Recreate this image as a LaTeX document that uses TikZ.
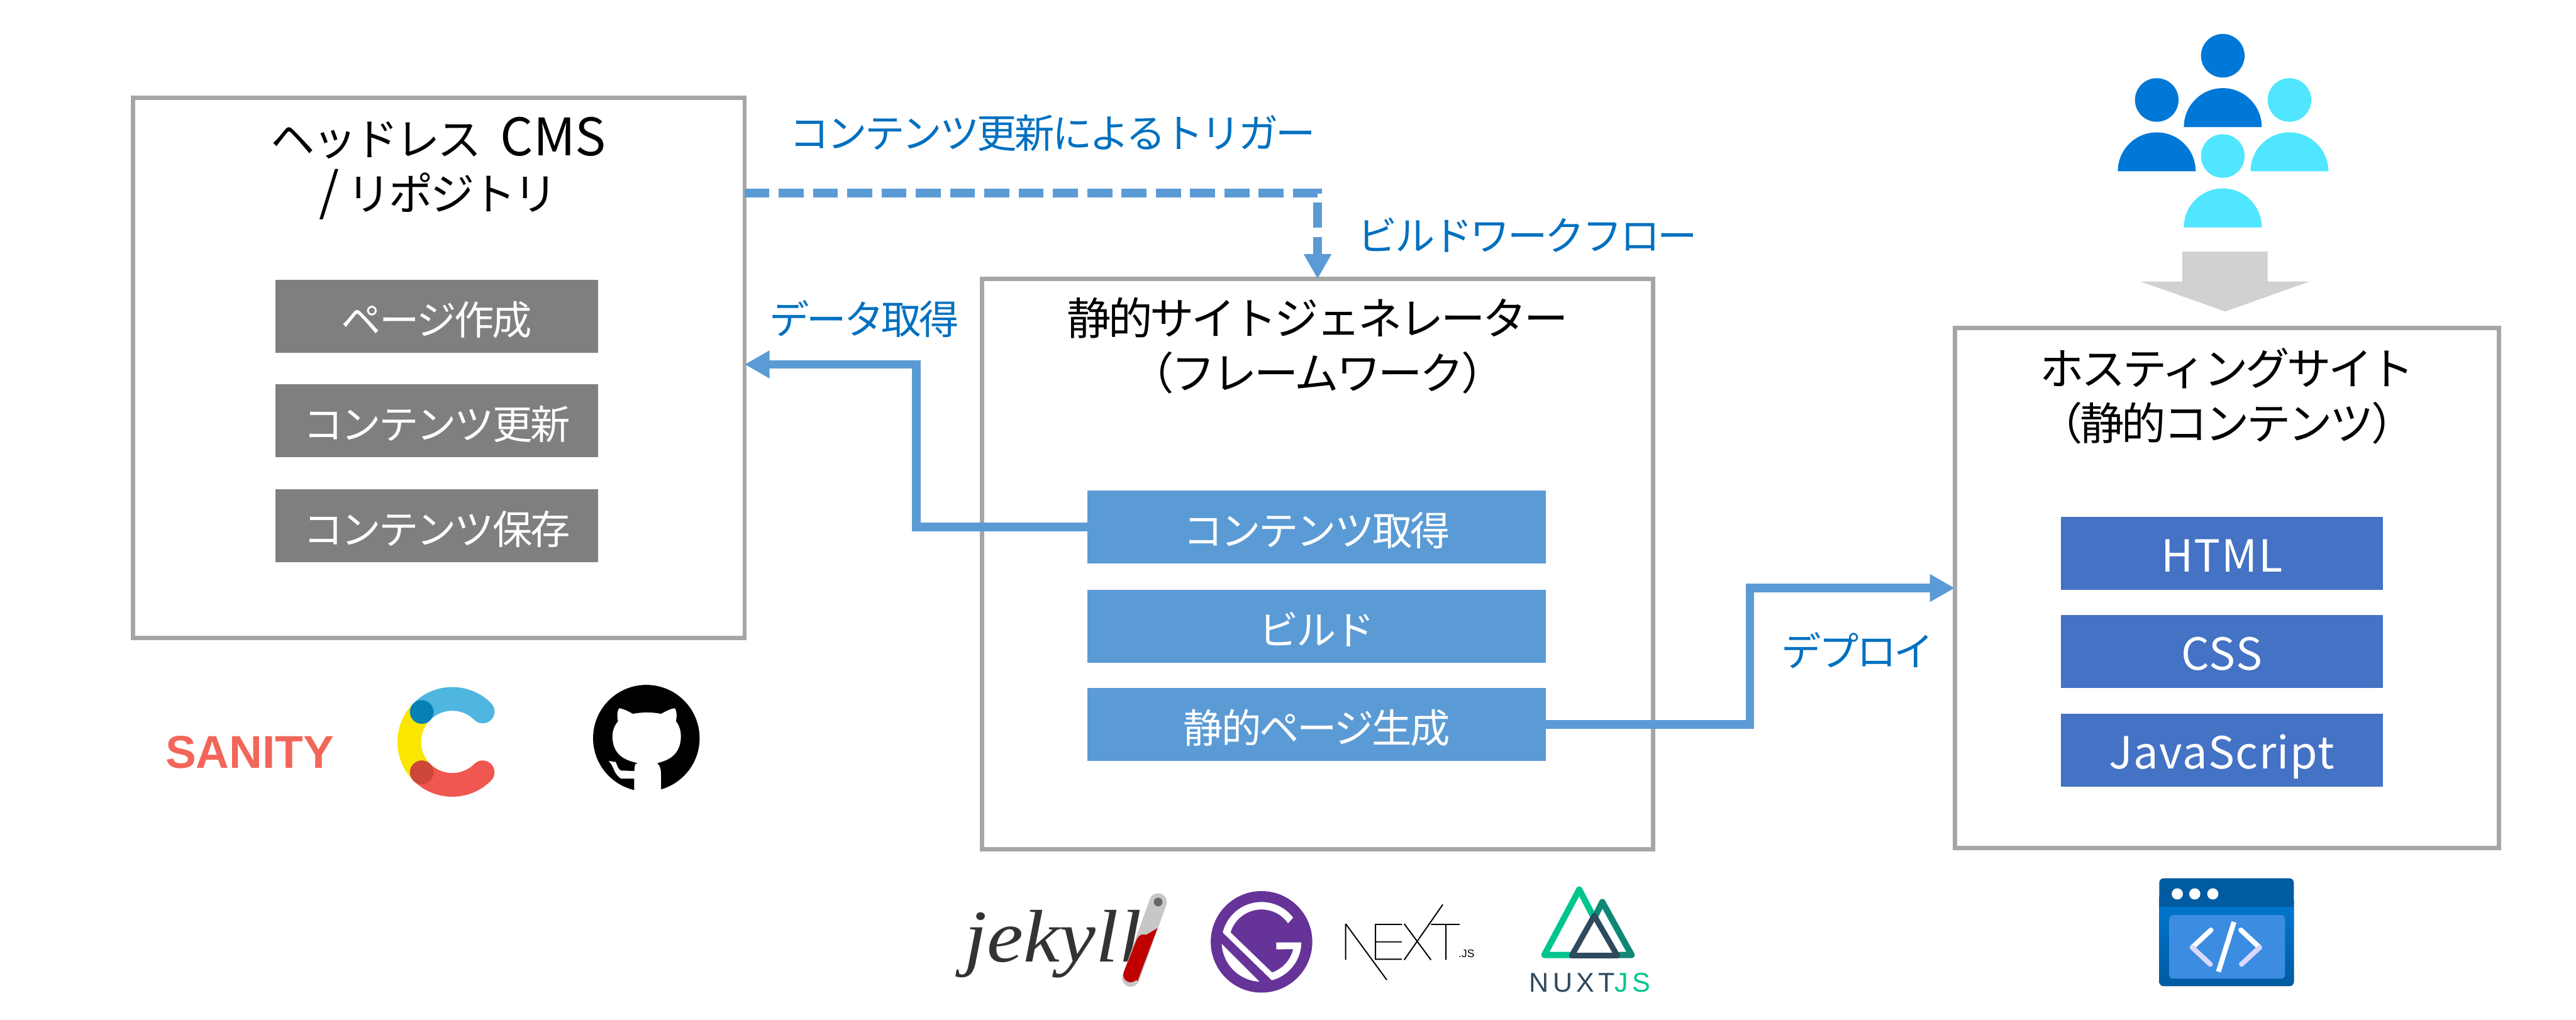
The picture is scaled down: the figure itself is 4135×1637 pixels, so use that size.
\documentclass[tikz,border=0pt]{standalone}
\usepackage{fontspec}
\setmainfont{Noto Sans CJK JP}
\newfontfamily\logofont{Liberation Sans}
\newfontfamily\jekyllfont{Liberation Serif}
\definecolor{panelgray}{HTML}{A6A6A6}
\definecolor{stepgray}{HTML}{7F7F7F}
\definecolor{flowblue}{HTML}{5B9BD5}
\definecolor{hostblue}{HTML}{4472C4}
\definecolor{labelblue}{HTML}{0070C0}
\definecolor{userblue}{HTML}{0078D7}
\definecolor{usercyan}{HTML}{50E6FF}
\definecolor{sanityred}{HTML}{F2665A}
\definecolor{cfblue}{HTML}{4FB5E1}
\definecolor{cfdarkblue}{HTML}{0681B6}
\definecolor{cfred}{HTML}{F05751}
\definecolor{cfdarkred}{HTML}{CD4739}
\definecolor{cfyellow}{HTML}{FBE600}
\definecolor{gatsbypurple}{HTML}{663399}
\definecolor{nuxtgreen}{HTML}{00C58E}
\definecolor{nuxtteal}{HTML}{108775}
\definecolor{nuxtnavy}{HTML}{2F495E}
\definecolor{windowdark}{HTML}{005BA1}
\definecolor{windowmid}{HTML}{0078D4}
\definecolor{windowpanel}{HTML}{3C8DE2}
\usetikzlibrary{arrows.meta,positioning}
\newcommand{\latinbig}[1]{{\fontsize{23.6pt}{24pt}\selectfont\addfontfeature{LetterSpace=0}#1}}
\newcommand{\latinmid}[1]{{\fontsize{20.2pt}{24pt}\selectfont\addfontfeature{LetterSpace=2}#1}}
\tikzset{
  panel/.style={draw=panelgray, line width=0.07cm, fill=white, inner sep=0pt, outer sep=0pt},
  heading/.style={align=center, inner sep=0pt, font=\fontsize{20.2pt}{25pt}\selectfont\addfontfeature{LetterSpace=-6}},
  stepbox/.style={text=white, inner sep=0pt, outer sep=0pt, text height=0.65cm, text depth=0.05cm, font=\fontsize{18.2pt}{24pt}\selectfont\addfontfeature{LetterSpace=-5}},
  cmsstep/.style={stepbox, fill=stepgray, minimum width=5.18cm, minimum height=1.17cm},
  ssgstep/.style={stepbox, fill=flowblue, minimum width=7.35cm, minimum height=1.17cm},
  hoststep/.style={stepbox, fill=hostblue, minimum width=5.17cm, minimum height=1.17cm},
  flowlabel/.style={text=labelblue, inner sep=0pt, font=\fontsize{18.2pt}{24pt}\selectfont\addfontfeature{LetterSpace=-6}},
  flowarrow/.style={draw=flowblue, line width=0.14cm, -{Triangle[length=0.4cm,width=0.42cm]}},
  triggerarrow/.style={flowarrow, dash pattern=on 0.4cm off 0.15cm},
}
\begin{document}
\begin{tikzpicture}[x=0.01cm,y=0.01cm]
  \useasboundingbox (0,0) rectangle (4135,-1637);

  %% Panels
  \node[panel, minimum width=9.81cm, minimum height=8.67cm] (cms) at (704.5,-590.5) {};
  \node[panel, minimum width=10.76cm, minimum height=9.15cm] (ssg) at (2115,-905.5) {};
  \node[panel, minimum width=8.73cm, minimum height=8.34cm] (host) at (3574.5,-944) {};

  %% Headings
  \node[heading] (cmstitle) at (704,-270) {ヘッドレス\hspace{0.3cm}\latinbig{CMS}\\\latinbig{/}\hspace{0.12cm}リポジトリ};
  \node[heading] (ssgtitle) at (2115,-555) {静的サイトジェネレーター\\（フレームワーク）};
  \node[heading] (hosttitle) at (3575,-636) {ホスティングサイト\\（静的コンテンツ）};

  %% CMS steps
  \node[cmsstep] (pagemake) at (701,-507.5) {ページ作成};
  \node[cmsstep] (update) at (701,-675) {コンテンツ更新};
  \node[cmsstep] (store) at (701,-844) {コンテンツ保存};

  %% Generator steps
  \node[ssgstep] (fetch) at (2113.5,-846) {コンテンツ取得};
  \node[ssgstep] (build) at (2113.5,-1005) {ビルド};
  \node[ssgstep] (generate) at (2113.5,-1163) {静的ページ生成};

  %% Hosted files
  \node[hoststep] (html) at (3566.5,-888.5) {\latinmid{HTML}};
  \node[hoststep] (css) at (3566.5,-1045.5) {\latinmid{CSS}};
  \node[hoststep] (js) at (3566.5,-1204.5) {\latinmid{JavaScript}};

  %% Connectors
  \coordinate (triggerstart) at (1195,-310);
  \coordinate (datacorner) at (1471,-585);
  \coordinate (deploycorner) at (2809,-944);
  \draw[triggerarrow] (triggerstart) -| (ssg.north);
  \draw[flowarrow] (fetch.west) -| (datacorner) -- (cms.east |- datacorner);
  \draw[flowarrow] (generate.east) -| (deploycorner) -- (host.west |- deploycorner);

  %% Connector labels
  \node[flowlabel] (triggerlabel) at (1690,-214) {コンテンツ更新によるトリガー};
  \node[flowlabel] (flowname) at (2452,-377) {ビルドワークフロー};
  \node[flowlabel] (datalabel) at (1387,-512) {データ取得};
  \node[flowlabel] (deploylabel) at (2982,-1044) {デプロイ};

  %% Users
  \foreach \ux/\uy/\ucol in {3568/204/userblue, 3462/275/userblue, 3675/275/usercyan, 3568/365/usercyan} {
    \fill[\ucol] (\ux,-\uy+114.5) circle (35);
    \fill[\ucol] (\ux-62.5,-\uy) arc[start angle=180, end angle=0, radius=62.5] -- cycle;
  }

  %% Access arrow
  \fill[black!18] (3503,-404) -- (3640,-404) -- (3640,-452) -- (3707,-452) -- (3572,-500) -- (3436,-452) -- (3503,-452) -- cycle;

  %% Sanity
  \node[inner sep=0pt, text=sanityred, font=\logofont\bfseries\fontsize{21pt}{24pt}\selectfont] (sanity) at (401,-1208) {SANITY};

  %% Contentful
  \draw[cfyellow, line width=0.38cm] (726,-1191) ++(135:69) arc[start angle=135, end angle=225, radius=69];
  \draw[cfblue, line width=0.38cm, line cap=round] (726,-1191) ++(135:69) arc[start angle=135, end angle=45, radius=69];
  \draw[cfred, line width=0.38cm, line cap=round] (726,-1191) ++(225:69) arc[start angle=225, end angle=315, radius=69];
  \fill[cfdarkblue] (677,-1143) circle (19);
  \fill[cfdarkred] (677,-1240) circle (19);

  %% GitHub
  \fill[black] (1037.5,-1185) circle (85.5);
  \fill[white] (1018,-1271) -- (1018,-1250) -- (997,-1250) .. controls (985,-1243) and (985,-1228) .. (977,-1222)
    .. controls (981,-1221) and (985,-1224) .. (988,-1223) .. controls (992,-1230) and (992,-1238) .. (1000,-1237)
    -- (1018,-1238) -- (1019.5,-1227) -- (1024,-1225) .. controls (1000,-1220) and (984,-1210) .. (983,-1183)
    .. controls (983,-1172) and (987,-1164) .. (992,-1158) .. controls (990,-1148) and (991,-1140) .. (994,-1137)
    .. controls (1002,-1138) and (1010,-1143) .. (1016,-1146) .. controls (1030,-1143) and (1048,-1143) .. (1061,-1146)
    .. controls (1067,-1143) and (1075,-1138) .. (1083,-1137) .. controls (1086,-1140) and (1087,-1148) .. (1085,-1158)
    .. controls (1090,-1164) and (1093,-1172) .. (1093,-1183) .. controls (1092,-1210) and (1076,-1220) .. (1055,-1225)
    .. controls (1060,-1230) and (1061,-1235) .. (1061,-1245) -- (1061,-1271) -- cycle;

  %% Jekyll
  \node[inner sep=0pt, text=black!80, xscale=1.1, font=\jekyllfont\itshape\fontsize{34pt}{36pt}\selectfont] (jekyll) at (1690,-1515) {jekyll};
  \draw[black!22, line width=0.28cm, line cap=round] (1859,-1448) -- (1815,-1570);
  \fill[black!60] (1859,-1448) circle (7);
  \fill[red!75!black] (1858,-1490) -- (1826,-1575) -- (1806,-1558) -- (1824,-1510) -- cycle;
  \draw[red!75!black, line width=0.24cm, line cap=round] (1836,-1512) -- (1815,-1565);

  %% Gatsby
  \fill[gatsbypurple] (2025,-1512) circle (81.5);
  \fill[white] (2025,-1512) ++(183:64) arc[start angle=183, end angle=267, radius=64] -- cycle;
  \fill[white] (2025,-1512) ++(166.5:64) arc[start angle=166.5, end angle=37.4, radius=64]
    -- ([shift={(2025,-1512)}]35:52) arc[start angle=35, end angle=163, radius=52]
    -- ([shift={(2025,-1512)}]-71:52) arc[start angle=-71, end angle=-13, radius=52]
    -- (2048.6,-1524) -- (2048.6,-1513) -- (2089,-1513)
    arc[start angle=-1, end angle=-75, radius=64] -- cycle;

  %% Next.js
  \draw[black, line width=0.02cm] (2160,-1483) -- (2160,-1541) (2160,-1483) -- (2226,-1573)
    (2208,-1483) -- (2208,-1541) (2208,-1484) -- (2250,-1484) (2208,-1512) -- (2250,-1512) (2208,-1540) -- (2250,-1540)
    (2254,-1483) -- (2297,-1541) (2316,-1452) -- (2254,-1541)
    (2297,-1484) -- (2343,-1484) (2321,-1484) -- (2321,-1541);
  \node[inner sep=0pt, font=\logofont\fontsize{5pt}{6pt}\selectfont] (nextjs) at (2354,-1531) {.JS};

  %% Nuxt
  \draw[nuxtgreen, line width=0.1cm, line join=round] (2525,-1533) -- (2479,-1533) -- (2535,-1428) -- (2559,-1474);
  \draw[nuxtteal, line width=0.1cm, line join=round] (2559,-1474) -- (2572,-1448) -- (2619,-1533) -- (2598,-1533);
  \draw[nuxtnavy, line width=0.09cm, line join=round] (2559,-1470) -- (2523,-1534) -- (2596,-1534) -- cycle;
  \node[inner sep=0pt, text=nuxtnavy, font=\logofont\fontsize{12.4pt}{14pt}\selectfont\addfontfeature{LetterSpace=14}] (nuxtjs) at (2552,-1578) {NUXT\textcolor{nuxtgreen}{JS}};

  %% Window icon
  \fill[rounded corners=0.07cm, top color=windowmid, bottom color=windowdark] (3466,-1440) rectangle (3682,-1583);
  \fill[rounded corners=0.07cm, windowdark] (3466,-1410) rectangle (3682,-1456);
  \fill[windowdark] (3466,-1440) rectangle (3682,-1456);
  \fill[rounded corners=0.06cm, windowpanel] (3482,-1469) rectangle (3668,-1571);
  \foreach \dotx in {3495,3523,3552} {
    \fill[white] (\dotx,-1435) circle (9);
  }
  \draw[white, line width=0.08cm] (3586,-1480) -- (3561,-1560);
  \draw[white, line width=0.08cm, line cap=round] (3549,-1493) -- (3519,-1521);
  \draw[white!85!blue, line width=0.08cm, line cap=round] (3519,-1521) -- (3548,-1548);
  \draw[white, line width=0.08cm, line cap=round] (3597,-1493) -- (3627,-1521);
  \draw[white!85!blue, line width=0.08cm, line cap=round] (3627,-1521) -- (3598,-1548);
\end{tikzpicture}
\end{document}
